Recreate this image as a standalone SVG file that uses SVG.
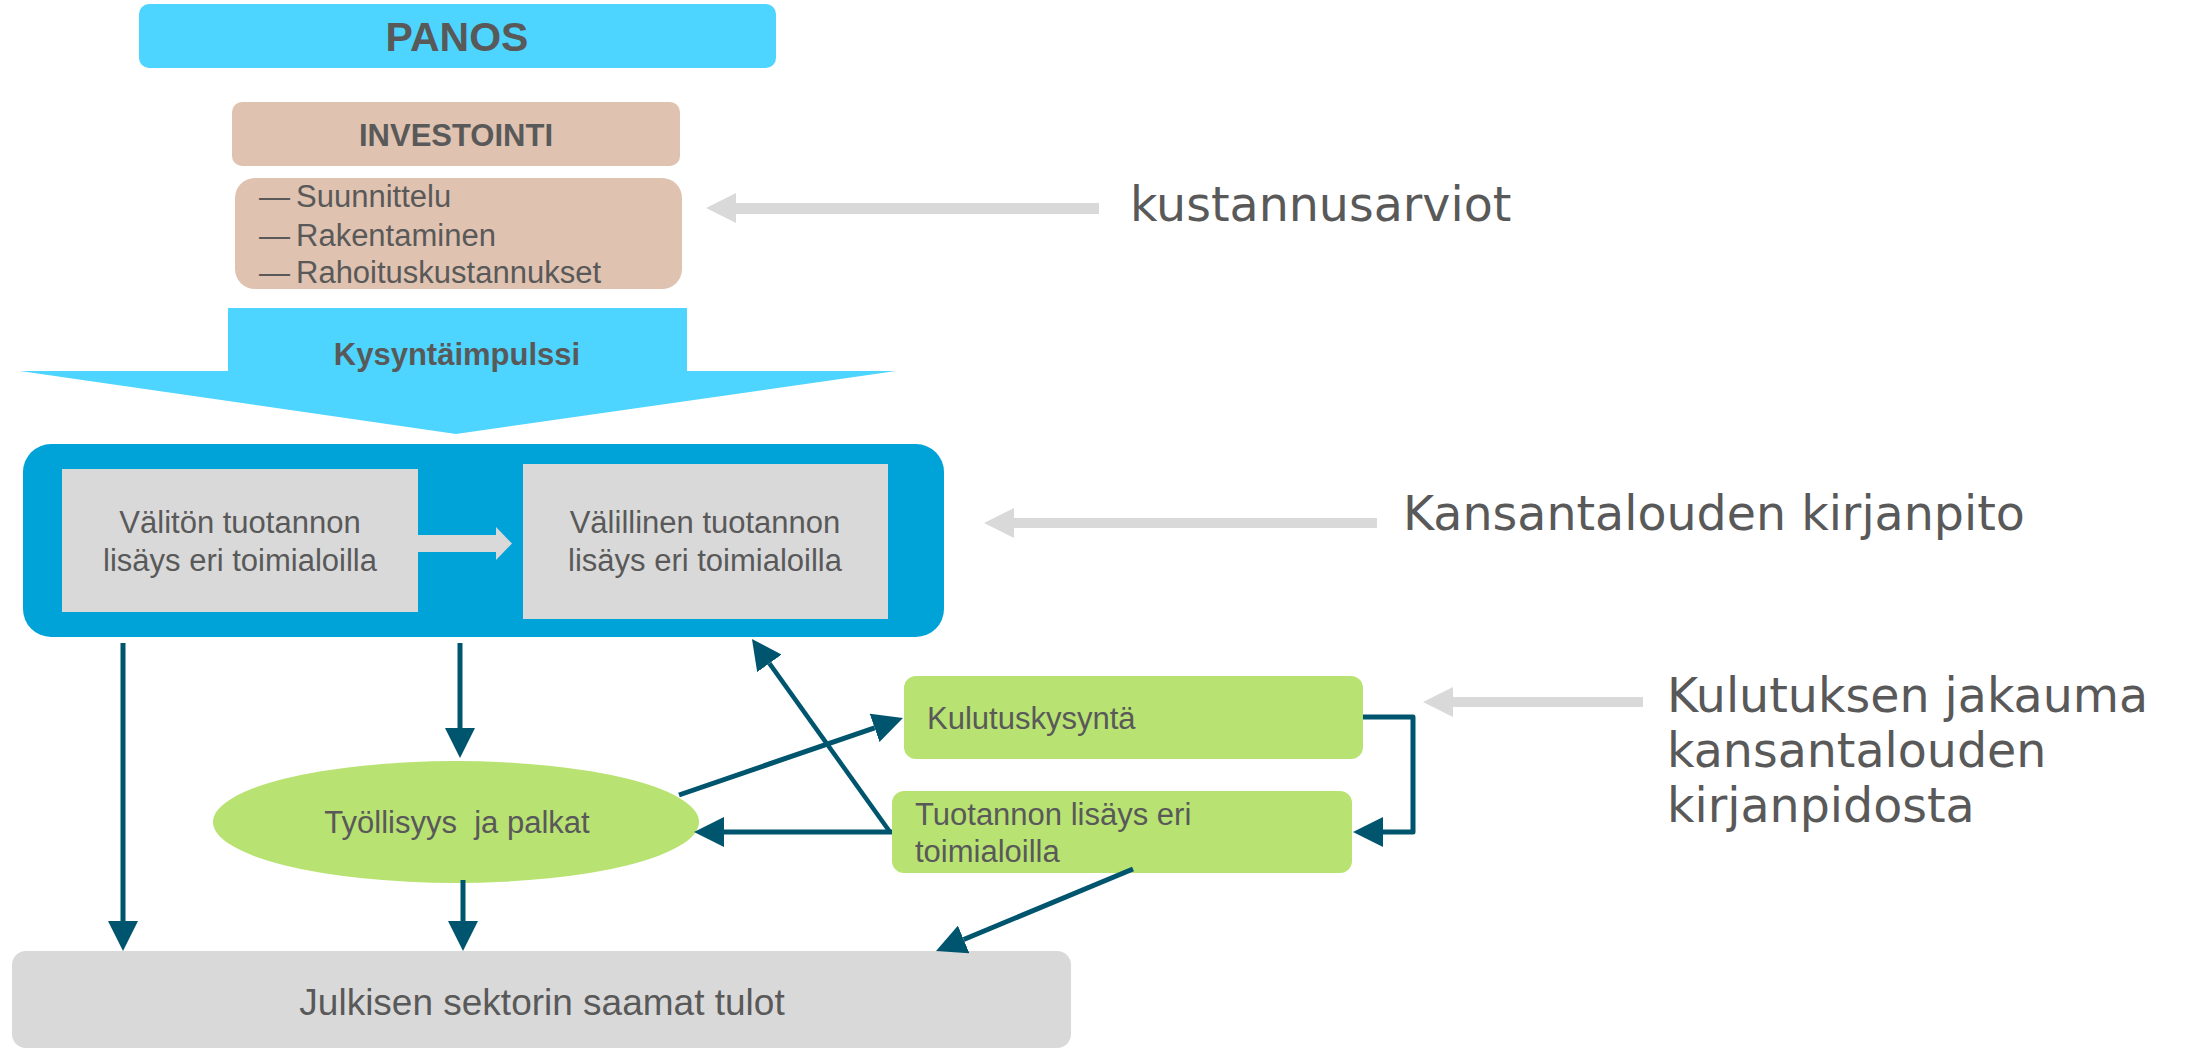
<svg xmlns="http://www.w3.org/2000/svg" width="2187" height="1050" viewBox="0 0 2187 1050">
<style>
.t{font-family:"Liberation Sans",Arial,sans-serif;fill:#595959}
.b{font-weight:bold}
.r{font-family:"DejaVu Sans",sans-serif;fill:#595959;font-size:47.5px}
.cyan{fill:#4DD5FF}
.tan{fill:#DFC2B0}
.grn{fill:#B8E272}
.gry{fill:#D9D9D9}
.c{fill:none;stroke:#00556E;stroke-width:5}
.cthin{fill:none;stroke:#00556E;stroke-width:4.5}
</style>
<defs>
<marker id="ah" markerUnits="userSpaceOnUse" markerWidth="30" markerHeight="30" refX="0" refY="15" orient="auto" viewBox="0 0 30 30">
<path d="M0,0 L30,15 L0,30 z" fill="#00556E"/>
</marker>
</defs>
<g id="panos">
<rect class="cyan" x="139" y="4" width="637" height="64" rx="10"/>
<text class="t b" x="457" y="51" font-size="41" text-anchor="middle">PANOS</text>
</g>
<g id="investointi">
<rect class="tan" x="232" y="102" width="448" height="64" rx="10"/>
<text class="t b" x="456" y="146" font-size="31" text-anchor="middle">INVESTOINTI</text>
</g>
<g id="investointi-list">
<rect class="tan" x="235" y="178" width="447" height="111" rx="20"/>
<text class="t" y="207" font-size="31"><tspan x="259">—</tspan><tspan x="296">Suunnittelu</tspan></text>
<text class="t" y="246" font-size="31"><tspan x="259">—</tspan><tspan x="296">Rakentaminen</tspan></text>
<text class="t" y="283" font-size="31"><tspan x="259">—</tspan><tspan x="296">Rahoituskustannukset</tspan></text>
</g>
<g id="kysyntaimpulssi">
<polygon class="cyan" points="228,308 687,308 687,371 896,371 456,434 20,371 228,371"/>
<text class="t b" x="457" y="365" font-size="31" text-anchor="middle">Kysyntäimpulssi</text>
</g>
<g id="kansantalous">
<rect x="23" y="444" width="921" height="193" rx="28" fill="#00A3D7"/>
</g>
<g id="valiton">
<rect class="gry" x="62" y="469" width="356" height="143"/>
<text class="t" x="240" y="533" font-size="31" text-anchor="middle">Välitön tuotannon</text>
<text class="t" x="240" y="571" font-size="31" text-anchor="middle">lisäys eri toimialoilla</text>
</g>
<g id="valillinen">
<rect class="gry" x="523" y="464" width="365" height="155"/>
<text class="t" x="705" y="533" font-size="31" text-anchor="middle">Välillinen tuotannon</text>
<text class="t" x="705" y="571" font-size="31" text-anchor="middle">lisäys eri toimialoilla</text>
</g>
<g id="tyollisyys">
<ellipse class="grn" cx="456" cy="822" rx="243" ry="61"/>
<text class="t" x="457" y="833" font-size="31" text-anchor="middle" style="white-space:pre">Työllisyys  ja palkat</text>
</g>
<g id="kulutuskysynta">
<rect class="grn" x="904" y="676" width="459" height="83" rx="12"/>
<text class="t" x="927" y="729" font-size="31">Kulutuskysyntä</text>
</g>
<g id="tuotannon">
<rect class="grn" x="892" y="791" width="460" height="82" rx="12"/>
<text class="t" x="915" y="825" font-size="31">Tuotannon lisäys eri</text>
<text class="t" x="915" y="862" font-size="31">toimialoilla</text>
</g>
<g id="julkisen">
<rect class="gry" x="12" y="951" width="1059" height="97" rx="14"/>
<text class="t" x="542" y="1015" font-size="37" text-anchor="middle">Julkisen sektorin saamat tulot</text>
</g>
<g id="labels">
<text class="r" x="1130" y="221">kustannusarviot</text>
<text class="r" x="1403" y="530">Kansantalouden kirjanpito</text>
<text class="r" x="1667" y="712">Kulutuksen jakauma</text>
<text class="r" x="1667" y="767">kansantalouden</text>
<text class="r" x="1667" y="822">kirjanpidosta</text>
</g>
<g id="connectors">
<polygon class="gry" points="706,208 736,193 736,203 1099,203 1099,214 736,214 736,223"/>
<polygon class="gry" points="984,523 1014,508 1014,518 1377,518 1377,528 1014,528 1014,538"/>
<polygon class="gry" points="1423,702 1453,687 1453,697 1643,697 1643,707 1453,707 1453,717"/>
<polygon class="gry" points="418,535 496,535 496,527 512,543.5 496,560 496,552 418,552"/>
<path class="c" d="M123,643 V921" marker-end="url(#ah)"/>
<path class="c" d="M460,643 V728" marker-end="url(#ah)"/>
<path class="c" d="M463,880 V921" marker-end="url(#ah)"/>
<path class="c" d="M679,795 L874.6,727.8" marker-end="url(#ah)"/>
<path class="c" d="M892,832 H724" marker-end="url(#ah)"/>
<path class="cthin" d="M890,832 L769.4,663.4" marker-end="url(#ah)"/>
<path class="c" d="M1133,869 L963.7,939.5" marker-end="url(#ah)"/>
<path class="c" stroke-linejoin="round" d="M1363,717 H1413 V832 H1383" marker-end="url(#ah)"/>
</g>
</svg>
